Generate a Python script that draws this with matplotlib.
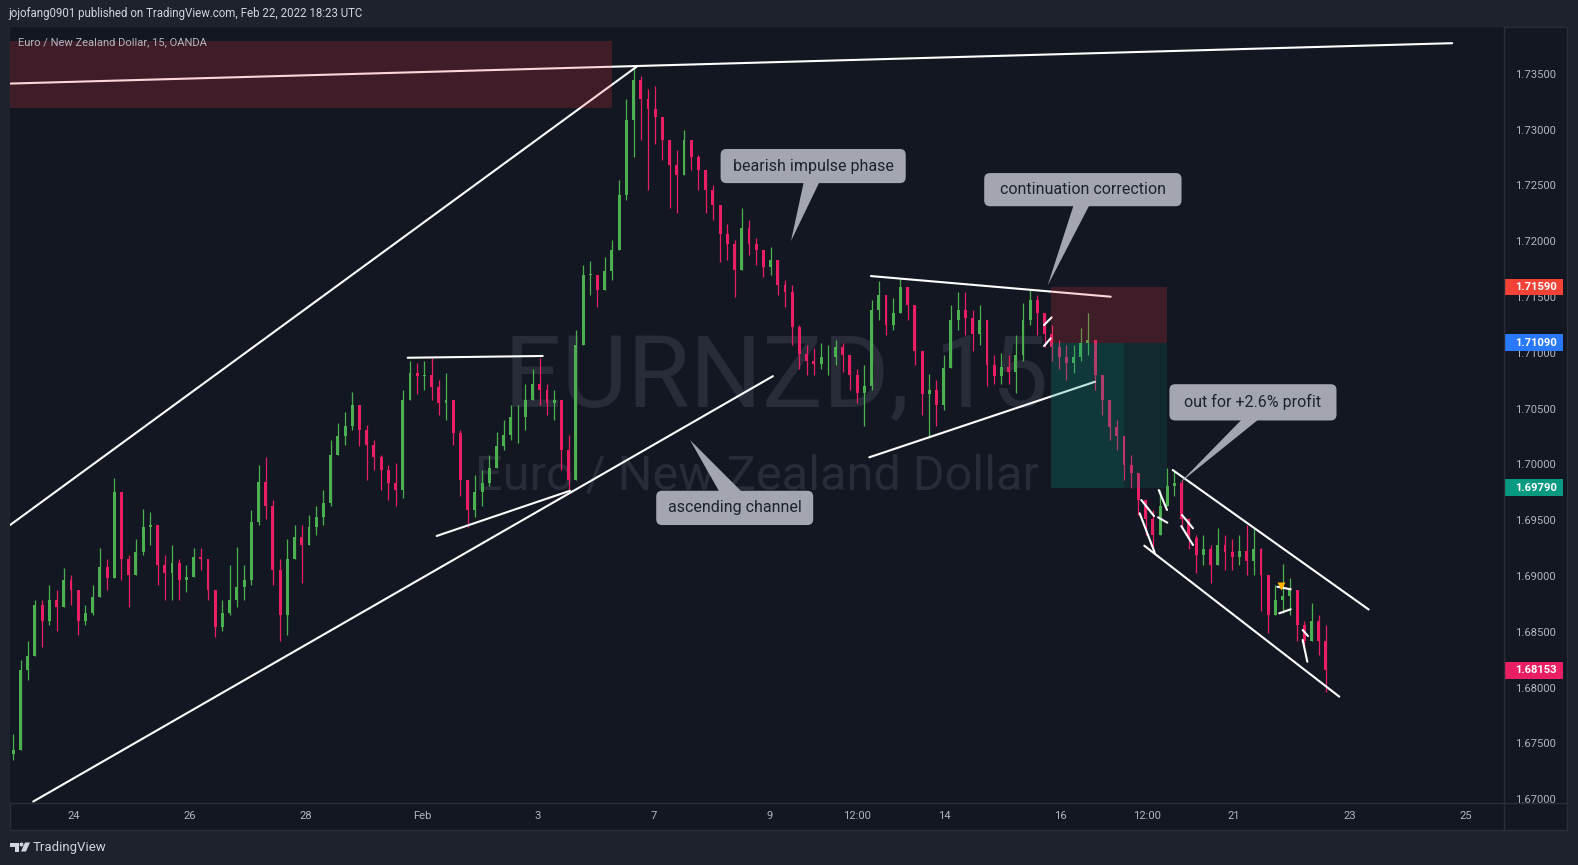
import numpy as np
import matplotlib
matplotlib.use("Agg")
import matplotlib.pyplot as plt
from matplotlib.patches import Rectangle, FancyBboxPatch, Polygon, Ellipse
from matplotlib.lines import Line2D
from matplotlib.transforms import blended_transform_factory

plt.rcParams['font.family'] = ['Roboto', 'DejaVu Sans']

#%% data: EURNZD candles (resampled), x in trading days from Jan 24
first_open = 1.6740
bar_start = -1.0466
bar_step = 0.12435

closes = [
    1.6744, 1.6816, 1.6828, 1.6874, 1.6860, 1.6878, 1.6872, 1.6896,
    1.6887, 1.6860, 1.6867, 1.6881, 1.6908, 1.6898, 1.6975, 1.6915,
    1.6901, 1.6921, 1.6944, 1.6946, 1.6910, 1.6903, 1.6912, 1.6896,
    1.6899, 1.6917, 1.6915, 1.6887, 1.6854, 1.6867, 1.6878, 1.6890,
    1.6896, 1.6948, 1.6984, 1.6963, 1.6905, 1.6865, 1.6915, 1.6935,
    1.6928, 1.6944, 1.6953, 1.6965, 1.7008, 1.7025, 1.7034, 1.7053,
    1.7031, 1.7017, 1.7007, 1.6995, 1.6983, 1.6977, 1.7058, 1.7082,
    1.7079, 1.7080, 1.7069, 1.7055, 1.7058, 1.7028, 1.6986, 1.6959,
    1.6975, 1.6983, 1.6997, 1.7016, 1.7026, 1.7042, 1.7042, 1.7058,
    1.7072, 1.7067, 1.7055, 1.7058, 1.7013, 1.6986, 1.7107, 1.7170,
    1.7170, 1.7156, 1.7173, 1.7192, 1.7241, 1.7309, 1.7344, 1.7327,
    1.7318, 1.7311, 1.7291, 1.7268, 1.7259, 1.7291, 1.7275, 1.7264,
    1.7246, 1.7232, 1.7206, 1.7197, 1.7174, 1.7212, 1.7197, 1.7192,
    1.7177, 1.7183, 1.7161, 1.7154, 1.7123, 1.7099, 1.7093, 1.7090,
    1.7096, 1.7096, 1.7105, 1.7098, 1.7080, 1.7064, 1.7070, 1.7138,
    1.7152, 1.7125, 1.7136, 1.7159, 1.7143, 1.7102, 1.7063, 1.7067,
    1.7053, 1.7086, 1.7129, 1.7138, 1.7131, 1.7117, 1.7129, 1.7089,
    1.7079, 1.7087, 1.7083, 1.7098, 1.7129, 1.7147, 1.7136, 1.7117,
    1.7105, 1.7096, 1.7091, 1.7096, 1.7109, 1.7111, 1.7080, 1.7058,
    1.7033, 1.7025, 1.6999, 1.6992, 1.6968, 1.6951, 1.6937, 1.6963,
    1.6981, 1.6983, 1.6951, 1.6934, 1.6919, 1.6924, 1.6910, 1.6928,
    1.6921, 1.6917, 1.6922, 1.6913, 1.6924, 1.6901, 1.6865, 1.6878,
    1.6882, 1.6887, 1.6856, 1.6842, 1.6860, 1.6842, 1.68153,
]
highs = [
    1.6758, 1.6825, 1.6842, 1.6878, 1.6878, 1.6892, 1.6887, 1.6907,
    1.6901, 1.6878, 1.6874, 1.6892, 1.6925, 1.6915, 1.6988, 1.6970,
    1.6919, 1.6933, 1.6960, 1.6957, 1.6942, 1.6919, 1.6928, 1.6915,
    1.6910, 1.6925, 1.6925, 1.6910, 1.6887, 1.6878, 1.6910, 1.6926,
    1.6910, 1.6959, 1.6999, 1.7007, 1.6968, 1.6915, 1.6933, 1.6946,
    1.6946, 1.6955, 1.6963, 1.6977, 1.7022, 1.7037, 1.7047, 1.7065,
    1.7053, 1.7035, 1.7022, 1.7008, 1.6999, 1.7001, 1.7067, 1.7093,
    1.7091, 1.7093, 1.7095, 1.7076, 1.7082, 1.7058, 1.7031, 1.6986,
    1.6990, 1.6995, 1.7008, 1.7029, 1.7040, 1.7053, 1.7053, 1.7072,
    1.7085, 1.7095, 1.7072, 1.7067, 1.7058, 1.7026, 1.7120, 1.7179,
    1.7182, 1.7170, 1.7186, 1.7201, 1.7255, 1.7327, 1.7356, 1.7348,
    1.7336, 1.7339, 1.7309, 1.7291, 1.7282, 1.7300, 1.7291, 1.7277,
    1.7264, 1.7250, 1.7228, 1.7215, 1.7201, 1.7230, 1.7219, 1.7203,
    1.7192, 1.7195, 1.7179, 1.7165, 1.7161, 1.7125, 1.7107, 1.7104,
    1.7109, 1.7107, 1.7111, 1.7109, 1.7098, 1.7085, 1.7089, 1.7147,
    1.7164, 1.7152, 1.7149, 1.7167, 1.7156, 1.7129, 1.7098, 1.7081,
    1.7076, 1.7098, 1.7143, 1.7154, 1.7154, 1.7138, 1.7143, 1.7116,
    1.7098, 1.7100, 1.7098, 1.7116, 1.7145, 1.7156, 1.7152, 1.7136,
    1.7125, 1.7111, 1.7107, 1.7107, 1.7122, 1.7136, 1.7111, 1.7080,
    1.7058, 1.7040, 1.7022, 1.7008, 1.6990, 1.6968, 1.6959, 1.6977,
    1.6997, 1.6995, 1.6986, 1.6952, 1.6937, 1.6937, 1.6928, 1.6943,
    1.6937, 1.6933, 1.6937, 1.6946, 1.6943, 1.6925, 1.6887, 1.6892,
    1.6911, 1.6898, 1.6883, 1.6860, 1.6876, 1.6865, 1.6856,
]
lows = [
    1.6735, 1.6753, 1.6807, 1.6838, 1.6836, 1.6856, 1.6851, 1.6878,
    1.6874, 1.6847, 1.6856, 1.6865, 1.6887, 1.6887, 1.6917, 1.6896,
    1.6872, 1.6901, 1.6919, 1.6928, 1.6892, 1.6878, 1.6878, 1.6878,
    1.6886, 1.6901, 1.6905, 1.6878, 1.6845, 1.6851, 1.6865, 1.6872,
    1.6878, 1.6892, 1.6946, 1.6951, 1.6892, 1.6842, 1.6847, 1.6915,
    1.6894, 1.6928, 1.6937, 1.6946, 1.6963, 1.7008, 1.7017, 1.7031,
    1.7016, 1.6986, 1.6995, 1.6977, 1.6968, 1.6963, 1.6970, 1.7058,
    1.7063, 1.7067, 1.7058, 1.7044, 1.7040, 1.7017, 1.6972, 1.6944,
    1.6953, 1.6963, 1.6981, 1.6999, 1.7013, 1.7022, 1.7019, 1.7031,
    1.7058, 1.7053, 1.7044, 1.7040, 1.6995, 1.6977, 1.6995, 1.7107,
    1.7152, 1.7141, 1.7156, 1.7165, 1.7192, 1.7237, 1.7275, 1.7291,
    1.7246, 1.7287, 1.7273, 1.7230, 1.7225, 1.7268, 1.7264, 1.7246,
    1.7225, 1.7219, 1.7181, 1.7183, 1.7150, 1.7197, 1.7188, 1.7179,
    1.7168, 1.7170, 1.7152, 1.7141, 1.7107, 1.7085, 1.7080, 1.7080,
    1.7085, 1.7080, 1.7089, 1.7083, 1.7067, 1.7055, 1.7034, 1.7067,
    1.7129, 1.7116, 1.7120, 1.7138, 1.7129, 1.7089, 1.7044, 1.7024,
    1.7034, 1.7049, 1.7098, 1.7120, 1.7116, 1.7102, 1.7107, 1.7070,
    1.7072, 1.7072, 1.7072, 1.7064, 1.7093, 1.7125, 1.7116, 1.7105,
    1.7093, 1.7085, 1.7076, 1.7082, 1.7093, 1.7098, 1.7067, 1.7044,
    1.7022, 1.7013, 1.6986, 1.6979, 1.6955, 1.6937, 1.6921, 1.6942,
    1.6963, 1.6972, 1.6942, 1.6924, 1.6903, 1.6910, 1.6894, 1.6910,
    1.6905, 1.6905, 1.6910, 1.6901, 1.6901, 1.6869, 1.6849, 1.6865,
    1.6867, 1.6865, 1.6842, 1.6835, 1.6842, 1.6829, 1.6796,
]

price_ticks = [1.670, 1.675, 1.680, 1.685, 1.690, 1.695, 1.700,
               1.705, 1.710, 1.715, 1.720, 1.725, 1.730, 1.735]
day_ticks = [0, 2, 4, 6, 8, 10, 12, 13.5, 15, 17, 18.5, 20, 22, 24]
day_labels = ['24', '26', '28', 'Feb', '3', '7', '9', '12:00',
              '14', '16', '12:00', '21', '23', '25']

# drawn trend lines (day, price) -> (day, price)
trend_lines = [
    (-1.102, 1.73412, 23.762, 1.73774),
    (-1.102, 1.69456, 9.707, 1.73566),
    (-0.703, 1.66978, 12.050, 1.70790),
    (5.753, 1.70955, 8.081, 1.70971),
    (6.253, 1.69358, 8.552, 1.69763),
    (13.741, 1.71687, 17.874, 1.71502),
    (13.712, 1.70063, 17.603, 1.70740),
    (18.943, 1.69949, 22.322, 1.68699),
    (18.453, 1.69271, 21.815, 1.67918),
]
flag_lines = [
    (16.724, 1.71248, 16.857, 1.71317),
    (16.724, 1.71060, 16.840, 1.71129),
    (18.402, 1.69680, 18.621, 1.69537),
    (18.374, 1.69561, 18.633, 1.69208),
    (18.702, 1.69770, 18.845, 1.69591),
    (18.690, 1.69525, 18.850, 1.69477),
    (19.103, 1.69546, 19.293, 1.69427),
    (19.091, 1.69447, 19.293, 1.69277),
    (20.747, 1.68903, 20.978, 1.68880),
    (20.781, 1.68665, 20.978, 1.68701),
    (21.184, 1.68426, 21.264, 1.68231),
    (21.184, 1.68515, 21.276, 1.68461),
]
marker_pt = (20.802, 1.68909)

# supply zone top left
zone = (-1.11, 9.27, 1.73196, 1.73791)
# short position tool
pos_x = (16.845, 18.103, 18.85)
stop_px, entry_px, target_px = 1.71590, 1.71090, 1.69790

tag_values = [1.71590, 1.71090, 1.69790, 1.68153]
tag_colors = ['#f44336', '#2979ff', '#089981', '#e91e63']

callouts = [
    ('bearish impulse phase', 11.148, 14.340, 1.72520, 1.72826, 12.586, 12.862, (12.362, 1.72001)),
    ('continuation correction', 15.693, 19.095, 1.72313, 1.72610, 17.241, 17.517, (16.786, 1.71601)),
    ('ascending channel', 10.038, 12.745, 1.69456, 1.69763, 11.138, 11.534, (10.621, 1.70218)),
    ('out for +2.6% profit', 18.886, 21.767, 1.70393, 1.70718, 20.155, 20.448, (19.057, 1.69830)),
]

#%% style
W, H = 1578, 865
BG = '#131722'
FRAME = '#1e222d'
SEP = '#2a2e39'
TXT = '#b2b5be'
UP = '#4caf50'
DOWN = '#e91e63'
CALLOUT = '#a3a6af'


def fx(x):
    return x / W


def fy(y):
    return 1 - y / H


fig = plt.figure(figsize=(W / 100, H / 100), dpi=100, facecolor=FRAME)
fig.add_artist(Rectangle((fx(9.5), fy(829.5)), (1567 - 9.5) / W, (829.5 - 27) / H,
                         transform=fig.transFigure, fc=BG, ec=SEP, lw=1, zorder=-1))

ax = fig.add_axes([fx(10), fy(803), 1494 / W, 776 / H])
ax.set_facecolor(BG)
for s in ax.spines.values():
    s.set_visible(False)
xmin, xmax = -1.1034, 24.655
ymin, ymax = 1.66965, 1.73919
ax.set_xlim(xmin, xmax)
ax.set_ylim(ymin, ymax)

fig.add_artist(Line2D([fx(1504), fx(1504)], [fy(27), fy(829)], color=SEP, lw=1))
fig.add_artist(Line2D([fx(10), fx(1567)], [fy(803), fy(803)], color=SEP, lw=1))

# watermark
ax.text(0.513, 0.5103, 'EURNZD, 15', transform=ax.transAxes, ha='center', va='baseline',
        fontsize=73, color='#282c38', zorder=0)
ax.text(0.5, 0.4034, 'Euro / New Zealand Dollar', transform=ax.transAxes, ha='center',
        va='baseline', fontsize=35, color='#282c38', zorder=0)

# candles
c = np.array(closes)
n = len(c)
t = bar_start + bar_step * np.arange(n)
o = np.r_[first_open, c[:-1]]
hi = np.maximum(np.array(highs), np.maximum(o, c))
lo = np.minimum(np.array(lows), np.minimum(o, c))
cols = np.where(c >= o, UP, DOWN)
ax.vlines(t, lo, hi, colors=cols, lw=0.9, zorder=2)
ax.bar(t, np.maximum(np.abs(c - o), 0.00004), bottom=np.minimum(o, c), width=0.05,
       color=cols, lw=0, zorder=2)

# drawings
for x0, y0, x1, y1 in trend_lines + flag_lines:
    ax.plot([x0, x1], [y0, y1], color='white', lw=1.5, solid_capstyle='round', zorder=3)
ax.plot(*marker_pt, marker='v', ms=6, color='#ffb300', mec='none', zorder=3)

ax.add_patch(Rectangle((zone[0], zone[2]), zone[1] - zone[0], zone[3] - zone[2],
                       fc='#f23645', alpha=0.2, lw=0, zorder=4))
ax.add_patch(Rectangle((pos_x[0], entry_px), pos_x[2] - pos_x[0], stop_px - entry_px,
                       fc='#f23645', alpha=0.2, lw=0, zorder=4))
ax.add_patch(Rectangle((pos_x[0], target_px), pos_x[1] - pos_x[0], entry_px - target_px,
                       fc='#089981', alpha=0.25, lw=0, zorder=4))
ax.add_patch(Rectangle((pos_x[1], target_px), pos_x[2] - pos_x[1], entry_px - target_px,
                       fc='#089981', alpha=0.15, lw=0, zorder=4))

# callouts
asp = ((ymax - ymin) / 776) / ((xmax - xmin) / 1494)
for text, x0, x1, y0, y1, b0, b1, tip in callouts:
    ax.add_patch(FancyBboxPatch((x0, y0), x1 - x0, y1 - y0,
                                boxstyle='round,pad=0,rounding_size=0.1',
                                mutation_aspect=asp, fc=CALLOUT, ec='none', zorder=6))
    yb = y0 + 0.0002 if tip[1] < y0 else y1 - 0.0002
    ax.add_patch(Polygon([(b0, yb), (b1, yb), tip], closed=True, fc=CALLOUT, ec='none', zorder=6))
    ax.text((x0 + x1) / 2, (y0 + y1) / 2, text, ha='center', va='center', fontsize=11.5,
            color='#1e222d', fontweight='normal', zorder=7)

# axes ticks
ax.yaxis.tick_right()
ax.set_yticks(price_ticks, [f'{v:.5f}' for v in price_ticks])
ax.set_xticks(day_ticks, day_labels)
ax.tick_params(axis='both', length=0, labelcolor=TXT, labelsize=8.1)
ax.tick_params(axis='y', pad=8)
ax.tick_params(axis='x', pad=6)

# price tags on the scale
trans = blended_transform_factory(ax.transAxes, ax.transData)
hh = 16.7 / 776 * (ymax - ymin)
for v, col in zip(tag_values, tag_colors):
    ax.add_patch(Rectangle((1.0, v - hh / 2), 59 / 1494, hh, transform=trans, fc=col,
                           ec='none', clip_on=False, zorder=8))
    ax.text(1.0 + 11 / 1494, v, f'{v:.5f}', transform=trans, ha='left', va='center',
            fontsize=8.1, color='white', fontweight='bold', clip_on=False, zorder=9)

# header, title, footer
fig.text(fx(8), fy(14), 'jojofang0901 published on TradingView.com, Feb 22, 2022 18:23 UTC',
         fontsize=8.3, color='#d1d4dc', va='center', ha='left')
fig.text(fx(18), fy(42), 'Euro / New Zealand Dollar, 15, OANDA',
         fontsize=8, color=TXT, va='center', ha='left')

LOGO = '#d1d4dc'
fig.add_artist(Polygon([(fx(10), fy(842.5)), (fx(18.5), fy(842.5)), (fx(18.5), fy(851.5)),
                        (fx(14.5), fy(851.5)), (fx(14.5), fy(846.5)), (fx(10), fy(846.5))],
                       closed=True, fc=LOGO, ec='none', transform=fig.transFigure))
fig.add_artist(Ellipse((fx(21.5), fy(844.5)), 4 / W, 4 / H, fc=LOGO, ec='none',
                       transform=fig.transFigure))
fig.add_artist(Polygon([(fx(25), fy(842.5)), (fx(30), fy(842.5)), (fx(26), fy(851.5)),
                        (fx(21), fy(851.5))], closed=True, fc=LOGO, ec='none',
                       transform=fig.transFigure))
fig.text(fx(33), fy(847), 'TradingView', fontsize=9.5, color=LOGO, va='center', ha='left')

fig.savefig('out.png', dpi=100, facecolor=FRAME)
